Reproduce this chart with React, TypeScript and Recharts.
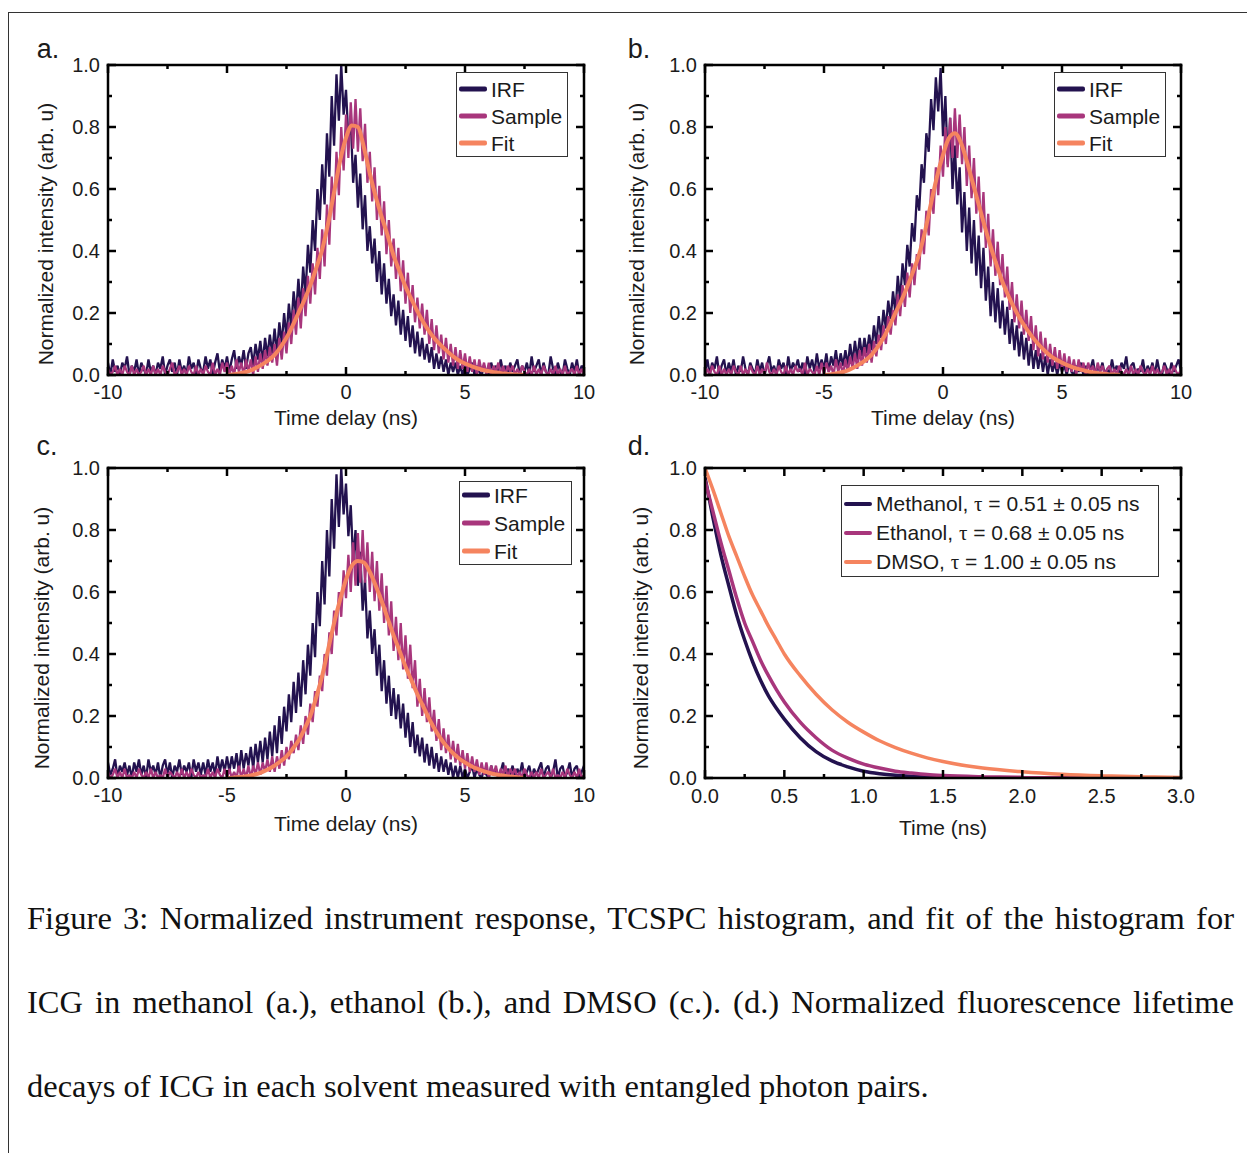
import React from "react";
import { LineChart, Line, XAxis, YAxis } from "recharts";

document.body.style.margin = "0";

// time grid of the TCSPC histograms (ns)
const DELAY_NS = [
  -10, -9.9, -9.8, -9.7, -9.6, -9.5, -9.4, -9.3, -9.2, -9.1,
  -9, -8.9, -8.8, -8.7, -8.6, -8.5, -8.4, -8.3, -8.2, -8.1,
  -8, -7.9, -7.8, -7.7, -7.6, -7.5, -7.4, -7.3, -7.2, -7.1,
  -7, -6.9, -6.8, -6.7, -6.6, -6.5, -6.4, -6.3, -6.2, -6.1,
  -6, -5.9, -5.8, -5.7, -5.6, -5.5, -5.4, -5.3, -5.2, -5.1,
  -5, -4.9, -4.8, -4.7, -4.6, -4.5, -4.4, -4.3, -4.2, -4.1,
  -4, -3.9, -3.8, -3.7, -3.6, -3.5, -3.4, -3.3, -3.2, -3.1,
  -3, -2.9, -2.8, -2.7, -2.6, -2.5, -2.4, -2.3, -2.2, -2.1,
  -2, -1.9, -1.8, -1.7, -1.6, -1.5, -1.4, -1.3, -1.2, -1.1,
  -1, -0.9, -0.8, -0.7, -0.6, -0.5, -0.4, -0.3, -0.2, -0.1,
  0, 0.1, 0.2, 0.3, 0.4, 0.5, 0.6, 0.7, 0.8, 0.9,
  1, 1.1, 1.2, 1.3, 1.4, 1.5, 1.6, 1.7, 1.8, 1.9,
  2, 2.1, 2.2, 2.3, 2.4, 2.5, 2.6, 2.7, 2.8, 2.9,
  3, 3.1, 3.2, 3.3, 3.4, 3.5, 3.6, 3.7, 3.8, 3.9,
  4, 4.1, 4.2, 4.3, 4.4, 4.5, 4.6, 4.7, 4.8, 4.9,
  5, 5.1, 5.2, 5.3, 5.4, 5.5, 5.6, 5.7, 5.8, 5.9,
  6, 6.1, 6.2, 6.3, 6.4, 6.5, 6.6, 6.7, 6.8, 6.9,
  7, 7.1, 7.2, 7.3, 7.4, 7.5, 7.6, 7.7, 7.8, 7.9,
  8, 8.1, 8.2, 8.3, 8.4, 8.5, 8.6, 8.7, 8.8, 8.9,
  9, 9.1, 9.2, 9.3, 9.4, 9.5, 9.6, 9.7, 9.8, 9.9,
  10,
];

// a. methanol
const IRF_A = [
  0.04, 0.0, 0.05, 0.01, 0.03, 0.0, 0.04, 0.02, 0.06, 0.0,
  0.03, 0.01, 0.05, 0.0, 0.04, 0.02, 0.0, 0.05, 0.01, 0.03,
  0.0, 0.04, 0.02, 0.06, 0.0, 0.03, 0.05, 0.01, 0.04, 0.0,
  0.05, 0.01, 0.03, 0.0, 0.06, 0.02, 0.04, 0.0, 0.05, 0.02,
  0.01, 0.06, 0.02, 0.05, 0.0, 0.04, 0.07, 0.01, 0.05, 0.02,
  0.06, 0.01, 0.05, 0.08, 0.02, 0.06, 0.03, 0.08, 0.02, 0.07,
  0.09, 0.03, 0.1, 0.05, 0.11, 0.04, 0.12, 0.06, 0.13, 0.07,
  0.15, 0.07, 0.17, 0.1, 0.2, 0.12, 0.23, 0.15, 0.27, 0.19,
  0.31, 0.21, 0.35, 0.26, 0.42, 0.33, 0.5, 0.4, 0.6, 0.5,
  0.68, 0.55, 0.78, 0.64, 0.9, 0.74, 0.97, 0.82, 1.0, 0.84,
  0.92, 0.76, 0.82, 0.62, 0.71, 0.54, 0.65, 0.47, 0.58, 0.4,
  0.48, 0.36, 0.44, 0.3, 0.4, 0.26, 0.36, 0.23, 0.31, 0.19,
  0.26, 0.16, 0.24, 0.13, 0.21, 0.11, 0.19, 0.09, 0.16, 0.07,
  0.14, 0.06, 0.12, 0.05, 0.1, 0.04, 0.09, 0.02, 0.07, 0.02,
  0.06, 0.01, 0.05, 0.0, 0.04, 0.01, 0.04, 0.0, 0.03, 0.0,
  0.03, 0.0, 0.02, 0.04, 0.0, 0.03, 0.01, 0.0, 0.03, 0.01,
  0.0, 0.04, 0.01, 0.03, 0.0, 0.05, 0.01, 0.03, 0.0, 0.04,
  0.01, 0.03, 0.05, 0.0, 0.03, 0.01, 0.04, 0.0, 0.06, 0.01,
  0.03, 0.05, 0.0, 0.04, 0.01, 0.0, 0.06, 0.02, 0.0, 0.04,
  0.01, 0.0, 0.05, 0.02, 0.0, 0.04, 0.01, 0.05, 0.0, 0.03,
  0.02,
];
const SAMPLE_A = [
  0.02, 0.0, 0.01, 0.03, 0.0, 0.02, 0.0, 0.03, 0.01, 0.0,
  0.03, 0.0, 0.02, 0.0, 0.01, 0.03, 0.0, 0.02, 0.0, 0.03,
  0.0, 0.02, 0.0, 0.03, 0.01, 0.0, 0.02, 0.04, 0.0, 0.01,
  0.03, 0.0, 0.02, 0.0, 0.03, 0.01, 0.0, 0.03, 0.0, 0.02,
  0.0, 0.03, 0.01, 0.0, 0.04, 0.0, 0.02, 0.0, 0.04, 0.01,
  0.04, 0.0, 0.03, 0.0, 0.05, 0.01, 0.04, 0.0, 0.05, 0.01,
  0.05, 0.0, 0.06, 0.01, 0.07, 0.02, 0.08, 0.03, 0.09, 0.04,
  0.1, 0.03, 0.12, 0.05, 0.14, 0.07, 0.17, 0.1, 0.21, 0.13,
  0.25, 0.15, 0.28, 0.19, 0.32, 0.23, 0.36, 0.26, 0.41, 0.31,
  0.47, 0.35, 0.55, 0.42, 0.64, 0.5, 0.72, 0.58, 0.8, 0.66,
  0.84, 0.7, 0.88, 0.73, 0.89, 0.72, 0.86, 0.69, 0.81, 0.62,
  0.72, 0.56, 0.67, 0.5, 0.61, 0.45, 0.56, 0.39, 0.5, 0.35,
  0.44, 0.31, 0.41, 0.27, 0.37, 0.23, 0.33, 0.2, 0.29, 0.17,
  0.25, 0.15, 0.23, 0.13, 0.21, 0.1, 0.18, 0.08, 0.16, 0.07,
  0.13, 0.05, 0.12, 0.04, 0.1, 0.03, 0.09, 0.02, 0.08, 0.02,
  0.07, 0.01, 0.06, 0.01, 0.05, 0.0, 0.05, 0.01, 0.04, 0.0,
  0.04, 0.0, 0.03, 0.01, 0.04, 0.0, 0.03, 0.0, 0.03, 0.01,
  0.03, 0.0, 0.02, 0.0, 0.03, 0.01, 0.0, 0.02, 0.0, 0.03,
  0.0, 0.02, 0.0, 0.03, 0.01, 0.0, 0.02, 0.0, 0.03, 0.0,
  0.02, 0.0, 0.03, 0.0, 0.01, 0.02, 0.0, 0.03, 0.0, 0.02,
  0.0,
];

// b. ethanol
const IRF_B = [
  0.01, 0.05, 0.0, 0.04, 0.02, 0.06, 0.0, 0.03, 0.05, 0.0,
  0.04, 0.01, 0.05, 0.0, 0.03, 0.01, 0.06, 0.02, 0.0, 0.04,
  0.02, 0.0, 0.05, 0.01, 0.04, 0.0, 0.03, 0.06, 0.01, 0.03,
  0.0, 0.05, 0.02, 0.04, 0.0, 0.06, 0.01, 0.04, 0.02, 0.05,
  0.01, 0.04, 0.0, 0.06, 0.02, 0.05, 0.01, 0.07, 0.02, 0.05,
  0.02, 0.07, 0.01, 0.06, 0.03, 0.08, 0.02, 0.07, 0.03, 0.08,
  0.03, 0.1, 0.04, 0.11, 0.05, 0.12, 0.06, 0.12, 0.07, 0.13,
  0.08, 0.16, 0.1, 0.19, 0.12, 0.21, 0.15, 0.24, 0.18, 0.27,
  0.2, 0.32, 0.24, 0.36, 0.29, 0.42, 0.35, 0.49, 0.43, 0.58,
  0.53, 0.68, 0.62, 0.78, 0.72, 0.89, 0.79, 0.96, 0.85, 0.99,
  0.77, 0.9, 0.68, 0.83, 0.6, 0.74, 0.55, 0.67, 0.46, 0.59,
  0.4, 0.54, 0.36, 0.5, 0.32, 0.45, 0.28, 0.41, 0.24, 0.35,
  0.19, 0.3, 0.17, 0.28, 0.15, 0.24, 0.13, 0.22, 0.1, 0.18,
  0.08, 0.16, 0.06, 0.14, 0.05, 0.12, 0.03, 0.1, 0.02, 0.08,
  0.02, 0.07, 0.01, 0.06, 0.0, 0.05, 0.01, 0.04, 0.0, 0.04,
  0.01, 0.03, 0.0, 0.04, 0.01, 0.0, 0.03, 0.01, 0.04, 0.0,
  0.03, 0.0, 0.02, 0.05, 0.0, 0.03, 0.01, 0.04, 0.0, 0.02,
  0.0, 0.05, 0.01, 0.03, 0.0, 0.04, 0.02, 0.06, 0.0, 0.03,
  0.04, 0.0, 0.02, 0.01, 0.05, 0.0, 0.03, 0.01, 0.04, 0.0,
  0.05, 0.01, 0.0, 0.04, 0.02, 0.0, 0.04, 0.01, 0.03, 0.05,
  0.01,
];
const SAMPLE_B = [
  0.0, 0.02, 0.0, 0.03, 0.01, 0.0, 0.03, 0.0, 0.02, 0.0,
  0.02, 0.0, 0.03, 0.01, 0.0, 0.03, 0.0, 0.02, 0.0, 0.03,
  0.01, 0.0, 0.03, 0.0, 0.02, 0.0, 0.04, 0.01, 0.0, 0.02,
  0.0, 0.03, 0.01, 0.0, 0.03, 0.0, 0.02, 0.0, 0.03, 0.01,
  0.02, 0.0, 0.04, 0.0, 0.02, 0.01, 0.0, 0.03, 0.0, 0.04,
  0.0, 0.04, 0.01, 0.03, 0.0, 0.05, 0.01, 0.04, 0.0, 0.05,
  0.01, 0.06, 0.02, 0.07, 0.02, 0.08, 0.03, 0.09, 0.04, 0.1,
  0.04, 0.11, 0.06, 0.13, 0.08, 0.16, 0.1, 0.19, 0.13, 0.21,
  0.16, 0.26, 0.19, 0.29, 0.22, 0.33, 0.25, 0.36, 0.29, 0.39,
  0.34, 0.47, 0.39, 0.53, 0.45, 0.6, 0.52, 0.67, 0.58, 0.74,
  0.64, 0.8, 0.67, 0.83, 0.7, 0.86, 0.7, 0.84, 0.68, 0.8,
  0.61, 0.74, 0.57, 0.7, 0.52, 0.64, 0.46, 0.59, 0.41, 0.52,
  0.35, 0.47, 0.32, 0.43, 0.29, 0.39, 0.25, 0.35, 0.21, 0.3,
  0.17, 0.26, 0.15, 0.24, 0.13, 0.21, 0.11, 0.19, 0.08, 0.16,
  0.06, 0.14, 0.05, 0.12, 0.04, 0.1, 0.03, 0.09, 0.02, 0.08,
  0.02, 0.07, 0.01, 0.06, 0.01, 0.05, 0.0, 0.05, 0.01, 0.04,
  0.0, 0.04, 0.01, 0.03, 0.0, 0.04, 0.01, 0.03, 0.0, 0.02,
  0.03, 0.0, 0.02, 0.0, 0.03, 0.01, 0.0, 0.02, 0.0, 0.03,
  0.0, 0.02, 0.0, 0.03, 0.01, 0.0, 0.02, 0.0, 0.03, 0.0,
  0.02, 0.0, 0.01, 0.03, 0.0, 0.02, 0.0, 0.03, 0.01, 0.0,
  0.02,
];

// c. DMSO
const IRF_C = [
  0.05, 0.01, 0.03, 0.06, 0.0, 0.04, 0.02, 0.05, 0.01, 0.04,
  0.0, 0.05, 0.02, 0.06, 0.01, 0.04, 0.0, 0.06, 0.02, 0.04,
  0.01, 0.05, 0.0, 0.04, 0.06, 0.01, 0.05, 0.0, 0.04, 0.02,
  0.06, 0.01, 0.04, 0.02, 0.05, 0.0, 0.06, 0.02, 0.05, 0.01,
  0.05, 0.01, 0.06, 0.02, 0.05, 0.01, 0.07, 0.02, 0.06, 0.02,
  0.07, 0.02, 0.07, 0.03, 0.08, 0.02, 0.09, 0.03, 0.08, 0.04,
  0.1, 0.03, 0.11, 0.05, 0.12, 0.05, 0.13, 0.06, 0.15, 0.07,
  0.17, 0.08, 0.2, 0.11, 0.23, 0.15, 0.27, 0.18, 0.31, 0.21,
  0.34, 0.23, 0.38, 0.27, 0.43, 0.33, 0.5, 0.39, 0.6, 0.49,
  0.7, 0.56, 0.8, 0.65, 0.9, 0.74, 0.98, 0.81, 1.0, 0.85,
  0.95, 0.78, 0.88, 0.7, 0.8, 0.62, 0.73, 0.54, 0.64, 0.45,
  0.54, 0.4, 0.48, 0.33, 0.43, 0.28, 0.38, 0.24, 0.33, 0.2,
  0.29, 0.19, 0.27, 0.16, 0.24, 0.13, 0.21, 0.1, 0.18, 0.08,
  0.14, 0.07, 0.13, 0.05, 0.11, 0.04, 0.1, 0.03, 0.08, 0.02,
  0.07, 0.02, 0.06, 0.01, 0.05, 0.0, 0.04, 0.0, 0.04, 0.0,
  0.03, 0.0, 0.02, 0.04, 0.0, 0.03, 0.01, 0.0, 0.03, 0.01,
  0.0, 0.04, 0.01, 0.03, 0.0, 0.02, 0.05, 0.0, 0.03, 0.01,
  0.04, 0.0, 0.03, 0.01, 0.05, 0.0, 0.02, 0.04, 0.0, 0.03,
  0.01, 0.03, 0.05, 0.0, 0.03, 0.04, 0.0, 0.02, 0.06, 0.0,
  0.03, 0.04, 0.0, 0.02, 0.05, 0.0, 0.03, 0.04, 0.0, 0.02,
  0.04,
];
const SAMPLE_C = [
  0.02, 0.0, 0.01, 0.03, 0.0, 0.02, 0.0, 0.03, 0.0, 0.01,
  0.0, 0.02, 0.0, 0.03, 0.01, 0.0, 0.02, 0.0, 0.03, 0.0,
  0.02, 0.0, 0.01, 0.0, 0.03, 0.0, 0.02, 0.01, 0.0, 0.02,
  0.0, 0.03, 0.0, 0.02, 0.0, 0.03, 0.01, 0.0, 0.02, 0.0,
  0.01, 0.0, 0.03, 0.0, 0.02, 0.0, 0.03, 0.01, 0.0, 0.03,
  0.0, 0.03, 0.0, 0.02, 0.0, 0.04, 0.0, 0.03, 0.0, 0.04,
  0.0, 0.04, 0.01, 0.05, 0.01, 0.05, 0.02, 0.06, 0.02, 0.07,
  0.02, 0.07, 0.03, 0.09, 0.04, 0.1, 0.06, 0.12, 0.08, 0.14,
  0.09, 0.17, 0.11, 0.2, 0.14, 0.24, 0.18, 0.28, 0.23, 0.33,
  0.28, 0.4, 0.33, 0.47, 0.4, 0.54, 0.46, 0.6, 0.52, 0.67,
  0.58, 0.72, 0.6, 0.76, 0.62, 0.79, 0.63, 0.8, 0.63, 0.76,
  0.6, 0.73, 0.57, 0.7, 0.54, 0.66, 0.5, 0.62, 0.46, 0.57,
  0.41, 0.52, 0.38, 0.5, 0.35, 0.46, 0.32, 0.43, 0.29, 0.38,
  0.23, 0.32, 0.2, 0.29, 0.18, 0.26, 0.15, 0.22, 0.12, 0.19,
  0.09, 0.16, 0.08, 0.14, 0.06, 0.12, 0.05, 0.11, 0.04, 0.09,
  0.03, 0.08, 0.02, 0.07, 0.02, 0.06, 0.01, 0.05, 0.01, 0.05,
  0.0, 0.04, 0.01, 0.04, 0.0, 0.03, 0.01, 0.04, 0.0, 0.03,
  0.01, 0.03, 0.0, 0.02, 0.0, 0.03, 0.01, 0.0, 0.02, 0.0,
  0.02, 0.0, 0.03, 0.0, 0.01, 0.02, 0.0, 0.03, 0.0, 0.01,
  0.0, 0.02, 0.0, 0.03, 0.01, 0.0, 0.02, 0.0, 0.03, 0.0,
  0.01,
];

// reconvolution fits, sampled every 0.25 ns
const FIT_NS = [
  -5, -4.75, -4.5, -4.25, -4, -3.75, -3.5, -3.25, -3, -2.75, -2.5, -2.25, -2,
  -1.75, -1.5, -1.25, -1, -0.75, -0.5, -0.25, 0, 0.25, 0.5, 0.75, 1, 1.25, 1.5,
  1.75, 2, 2.25, 2.5, 2.75, 3, 3.25, 3.5, 3.75, 4, 4.25, 4.5, 4.75, 5, 5.25,
  5.5, 5.75, 6, 6.25, 6.5, 6.75, 7, 7.25, 7.5,
];
const FIT_A = [
  0, 0.002, 0.005, 0.009, 0.015, 0.024, 0.035, 0.048, 0.065, 0.09, 0.12, 0.158,
  0.2, 0.242, 0.29, 0.345, 0.405, 0.49, 0.59, 0.69, 0.765, 0.805, 0.8, 0.735,
  0.65, 0.575, 0.51, 0.45, 0.385, 0.335, 0.285, 0.245, 0.205, 0.17, 0.14, 0.115,
  0.095, 0.077, 0.06, 0.047, 0.037, 0.029, 0.022, 0.016, 0.012, 0.009, 0.006,
  0.004, 0.002, 0.001, 0,
];
const FIT_B = [
  0, 0.002, 0.005, 0.009, 0.015, 0.024, 0.035, 0.048, 0.065, 0.09, 0.12, 0.158,
  0.2, 0.24, 0.285, 0.335, 0.39, 0.465, 0.555, 0.64, 0.71, 0.765, 0.78, 0.75,
  0.69, 0.62, 0.55, 0.48, 0.415, 0.355, 0.3, 0.255, 0.215, 0.18, 0.15, 0.123,
  0.1, 0.08, 0.063, 0.05, 0.04, 0.031, 0.024, 0.018, 0.013, 0.009, 0.006,
  0.004, 0.002, 0.001, 0,
];
const FIT_C = [
  0, 0.001, 0.003, 0.005, 0.008, 0.013, 0.02, 0.029, 0.04, 0.054, 0.07, 0.093,
  0.12, 0.157, 0.2, 0.26, 0.33, 0.415, 0.5, 0.575, 0.64, 0.685, 0.7, 0.695,
  0.665, 0.62, 0.57, 0.515, 0.46, 0.41, 0.36, 0.315, 0.27, 0.23, 0.19, 0.155,
  0.125, 0.1, 0.08, 0.063, 0.05, 0.039, 0.03, 0.023, 0.017, 0.012, 0.009,
  0.006, 0.004, 0.002, 0,
];

// d. lifetime decays
const DECAY_NS = [
  0, 0.05, 0.1, 0.15, 0.2, 0.25, 0.3, 0.35, 0.4, 0.45, 0.5, 0.6, 0.7, 0.8, 0.9,
  1, 1.1, 1.2, 1.3, 1.4, 1.5, 1.75, 2, 2.25, 2.5, 2.75, 3,
];
const METHANOL = [
  0.97, 0.84, 0.72, 0.62, 0.525, 0.445, 0.375, 0.315, 0.265, 0.225, 0.19, 0.13,
  0.085, 0.055, 0.036, 0.022, 0.014, 0.009, 0.006, 0.004, 0.002, 0.001, 0, 0, 0,
  0, 0,
];
const ETHANOL = [
  0.96, 0.86, 0.76, 0.67, 0.58, 0.5, 0.44, 0.38, 0.33, 0.285, 0.245, 0.18, 0.13,
  0.09, 0.064, 0.045, 0.032, 0.022, 0.016, 0.011, 0.008, 0.004, 0.002, 0.001, 0,
  0, 0,
];
const DMSO = [
  1, 0.93, 0.855, 0.78, 0.715, 0.65, 0.59, 0.54, 0.49, 0.445, 0.4, 0.33, 0.27,
  0.22, 0.18, 0.148, 0.12, 0.098, 0.08, 0.065, 0.053, 0.032, 0.02, 0.012, 0.007,
  0.004, 0.002,
];

const DELAY_TICKS = [-10, -7.5, -5, -2.5, 0, 2.5, 5, 7.5, 10];
const DELAY_LABELS = [-10, -5, 0, 5, 10];
const TIME_TICKS = [0, 0.25, 0.5, 0.75, 1, 1.25, 1.5, 1.75, 2, 2.25, 2.5, 2.75, 3];
const TIME_LABELS = [0, 0.5, 1, 1.5, 2, 2.5, 3];
const INT_TICKS = [0, 0.1, 0.2, 0.3, 0.4, 0.5, 0.6, 0.7, 0.8, 0.9, 1];
const INT_LABELS = [0, 0.2, 0.4, 0.6, 0.8, 1];

const C_IRF = "#23124f";
const C_SAMPLE = "#a8367c";
const C_FIT = "#f5845f";

const SANS = "'Liberation Sans', Arial, sans-serif";
const PLOT_W = 476;
const PLOT_H = 310;
const FRAME = { stroke: "#000", strokeWidth: 2.5, strokeLinecap: "square" as const };

const pair = (xs: number[], ys: number[]) => xs.map((t, i) => ({ t, v: ys[i] }));

type Side = "bottom" | "left" | "top" | "right";

// inward ticks, labels only on majors
function makeTick(side: Side, majors: number[], fmt: (v: number) => string, labelGap: number) {
  return (props: any) => {
    const { x, y, payload } = props;
    const v = payload.value as number;
    const major = majors.some((m) => Math.abs(m - v) < 1e-9);
    const len = major ? 8 : 4;
    let line;
    if (side === "bottom") line = <line x1={x} y1={y} x2={x} y2={y - len} />;
    else if (side === "top") line = <line x1={x} y1={y} x2={x} y2={y + len} />;
    else if (side === "left") line = <line x1={x} y1={y} x2={x + len} y2={y} />;
    else line = <line x1={x} y1={y} x2={x - len} y2={y} />;
    return (
      <g>
        <g stroke="#000" strokeWidth={2.5}>{line}</g>
        {major && side === "bottom" && (
          <text x={x} y={y + labelGap} textAnchor="middle" dominantBaseline="central" fontFamily={SANS} fontSize={20} fill="#1b1b1b">
            {fmt(v)}
          </text>
        )}
        {major && side === "left" && (
          <text x={x - 8} y={y} textAnchor="end" dominantBaseline="central" fontFamily={SANS} fontSize={20} fill="#1b1b1b">
            {fmt(v)}
          </text>
        )}
      </g>
    );
  };
}

type Series = { key: string; data: { t: number; v: number }[]; color: string; width: number; smooth?: boolean };

function Panel(props: {
  left: number;
  top: number;
  xDomain: [number, number];
  xTicks: number[];
  xLabels: number[];
  xFmt: (v: number) => string;
  labelGap: number;
  series: Series[];
}) {
  const { left, top, xDomain, xTicks, xLabels, xFmt, labelGap, series } = props;
  const yFmt = (v: number) => v.toFixed(1);
  return (
    <div style={{ position: "absolute", left: left - 100, top: top - 40 }}>
      <LineChart width={PLOT_W + 120} height={PLOT_H + 100} margin={{ top: 39, right: 19, bottom: 59, left: 99 }}>
        <XAxis type="number" dataKey="t" domain={xDomain} ticks={xTicks} interval={0} allowDataOverflow height={1}
          tickSize={0} tickMargin={0} tickLine={false} axisLine={FRAME}
          tick={makeTick("bottom", xLabels, xFmt, labelGap)} />
        <XAxis xAxisId="top" orientation="top" type="number" dataKey="t" domain={xDomain} ticks={xTicks} interval={0}
          allowDataOverflow height={1} tickSize={0} tickMargin={0} tickLine={false} axisLine={FRAME}
          tick={makeTick("top", xLabels, xFmt, labelGap)} />
        <YAxis type="number" domain={[0, 1]} ticks={INT_TICKS} interval={0} allowDataOverflow width={1}
          tickSize={0} tickMargin={0} tickLine={false} axisLine={FRAME}
          tick={makeTick("left", INT_LABELS, yFmt, 0)} />
        <YAxis yAxisId="right" orientation="right" type="number" domain={[0, 1]} ticks={INT_TICKS} interval={0}
          allowDataOverflow width={1} tickSize={0} tickMargin={0} tickLine={false} axisLine={FRAME}
          tick={makeTick("right", INT_LABELS, yFmt, 0)} />
        {series.map((s) => (
          <Line key={s.key} data={s.data} dataKey="v" type={s.smooth ? "monotone" : "linear"} stroke={s.color}
            strokeWidth={s.width} strokeLinejoin="bevel" dot={false} activeDot={false} isAnimationActive={false} />
        ))}
      </LineChart>
    </div>
  );
}

function Text(props: { x: number; y: number; size: number; rotate?: boolean; children: React.ReactNode }) {
  return (
    <div style={{
      position: "absolute", left: props.x, top: props.y, fontFamily: SANS, fontSize: props.size, color: "#1b1b1b",
      whiteSpace: "nowrap", lineHeight: 1, transform: `translate(-50%, -50%)${props.rotate ? " rotate(-90deg)" : ""}`,
    }}>
      {props.children}
    </div>
  );
}

type Row = { label: React.ReactNode; color: string; y: number };

function LegendBox(props: { left: number; top: number; width: number; height: number; rows: Row[] }) {
  return (
    <div style={{
      position: "absolute", left: props.left, top: props.top, width: props.width, height: props.height,
      border: "1.2px solid #333", boxSizing: "border-box", background: "#fff",
    }}>
      {props.rows.map((r, i) => (
        <div key={i} style={{ position: "absolute", left: 2, top: r.y, transform: "translateY(-50%)", display: "flex", alignItems: "center" }}>
          <div style={{ width: 28, height: 4.5, borderRadius: 2, background: r.color }} />
          <span style={{ marginLeft: 4, fontFamily: SANS, fontSize: 21, color: "#1b1b1b", whiteSpace: "nowrap", lineHeight: 1 }}>
            {r.label}
          </span>
        </div>
      ))}
    </div>
  );
}

const tau = <span style={{ fontFamily: "'Liberation Serif', serif" }}>τ</span>;

const delayFmt = (v: number) => String(v);
const timeFmt = (v: number) => v.toFixed(1);

const tcspcRows = (ys: number[]): Row[] => [
  { label: "IRF", color: C_IRF, y: ys[0] },
  { label: "Sample", color: C_SAMPLE, y: ys[1] },
  { label: "Fit", color: C_FIT, y: ys[2] },
];

const tcspcSeries = (irf: number[], sample: number[], fit: number[]): Series[] => [
  { key: "irf", data: pair(DELAY_NS, irf), color: C_IRF, width: 2.3 },
  { key: "sample", data: pair(DELAY_NS, sample), color: C_SAMPLE, width: 2.3 },
  { key: "fit", data: pair(FIT_NS, fit), color: C_FIT, width: 4, smooth: true },
];

const CAPTION = [
  "Figure 3: Normalized instrument response, TCSPC histogram, and fit of the histogram for",
  "ICG in methanol (a.), ethanol (b.), and DMSO (c.). (d.) Normalized fluorescence lifetime",
  "decays of ICG in each solvent measured with entangled photon pairs.",
];

export default function App() {
  return (
    <div style={{ position: "relative", width: 1247, height: 1153, background: "#fff", overflow: "hidden" }}>
      <div style={{ position: "absolute", left: 9, top: 12, right: 0, borderTop: "1.5px solid #333" }} />
      <div style={{ position: "absolute", left: 8, top: 12, bottom: 0, borderLeft: "1.5px solid #333" }} />

      <Panel left={108} top={65} xDomain={[-10, 10]} xTicks={DELAY_TICKS} xLabels={DELAY_LABELS} xFmt={delayFmt}
        labelGap={17} series={tcspcSeries(IRF_A, SAMPLE_A, FIT_A)} />
      <Panel left={705} top={65} xDomain={[-10, 10]} xTicks={DELAY_TICKS} xLabels={DELAY_LABELS} xFmt={delayFmt}
        labelGap={17} series={tcspcSeries(IRF_B, SAMPLE_B, FIT_B)} />
      <Panel left={108} top={468} xDomain={[-10, 10]} xTicks={DELAY_TICKS} xLabels={DELAY_LABELS} xFmt={delayFmt}
        labelGap={17} series={tcspcSeries(IRF_C, SAMPLE_C, FIT_C)} />
      <Panel left={705} top={468} xDomain={[0, 3]} xTicks={TIME_TICKS} xLabels={TIME_LABELS} xFmt={timeFmt}
        labelGap={18} series={[
          { key: "m", data: pair(DECAY_NS, METHANOL), color: C_IRF, width: 3.5, smooth: true },
          { key: "e", data: pair(DECAY_NS, ETHANOL), color: C_SAMPLE, width: 3.5, smooth: true },
          { key: "d", data: pair(DECAY_NS, DMSO), color: C_FIT, width: 3.5, smooth: true },
        ]} />

      <Text x={48} y={49} size={27}>a.</Text>
      <Text x={639} y={49} size={27}>b.</Text>
      <Text x={47} y={446} size={27}>c.</Text>
      <Text x={639} y={446} size={27}>d.</Text>

      <Text x={346} y={417} size={21}>Time delay (ns)</Text>
      <Text x={943} y={417} size={21}>Time delay (ns)</Text>
      <Text x={346} y={823} size={21}>Time delay (ns)</Text>
      <Text x={943} y={827} size={21}>Time (ns)</Text>

      <Text x={45} y={234} size={21} rotate>Normalized intensity (arb. u)</Text>
      <Text x={636} y={234} size={21} rotate>Normalized intensity (arb. u)</Text>
      <Text x={41} y={638} size={21} rotate>Normalized intensity (arb. u)</Text>
      <Text x={640} y={638} size={21} rotate>Normalized intensity (arb. u)</Text>

      <LegendBox left={456} top={72} width={112} height={85} rows={tcspcRows([16, 43, 70])} />
      <LegendBox left={1054} top={72} width={112} height={85} rows={tcspcRows([16, 43, 70])} />
      <LegendBox left={459} top={481} width={113} height={84} rows={tcspcRows([13, 41, 69])} />
      <LegendBox left={841} top={485} width={318} height={92} rows={[
        { label: <>Methanol, {tau} = 0.51 ± 0.05 ns</>, color: C_IRF, y: 18 },
        { label: <>Ethanol, {tau} = 0.68 ± 0.05 ns</>, color: C_SAMPLE, y: 47 },
        { label: <>DMSO, {tau} = 1.00 ± 0.05 ns</>, color: C_FIT, y: 76 },
      ]} />

      {CAPTION.map((line, i) => (
        <div key={i} style={{
          position: "absolute", left: 27, width: 1207, top: 898 + i * 84, height: 40, lineHeight: "40px",
          fontFamily: "'Liberation Serif', 'Times New Roman', serif", fontSize: 32.5, color: "#111",
          textAlign: "justify", textAlignLast: i < 2 ? "justify" : "left", whiteSpace: "nowrap",
        }}>
          {line}
        </div>
      ))}
    </div>
  );
}
